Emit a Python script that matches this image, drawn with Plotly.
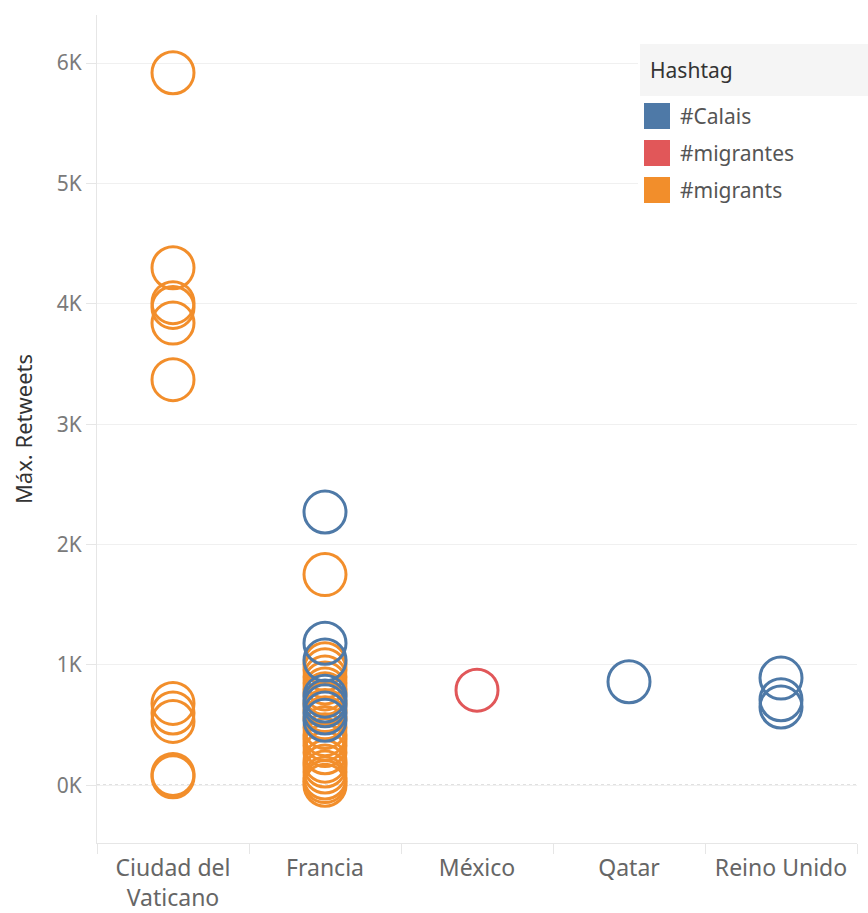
import plotly.graph_objects as go

# Countries on the x axis
countries = ["Ciudad del Vaticano", "Francia", "México", "Qatar", "Reino Unido"]
country_labels = ["Ciudad del<br>Vaticano", "Francia", "México", "Qatar", "Reino Unido"]

# Max retweets per tweet, grouped by hashtag
calais_country = ["Francia"] * 8 + ["Qatar"] + ["Reino Unido"] * 3
calais_rt = [2270, 1180, 1040, 740, 700, 660, 600, 540, 860, 890, 710, 650]

migrantes_country = ["México"]
migrantes_rt = [790]

migrants_country = ["Ciudad del Vaticano"] * 11 + ["Francia"] * 21
migrants_rt = [5920, 4300, 4010, 3970, 3840, 3370, 680, 600, 530, 90, 70,
               1750, 1010, 960, 900, 850, 800, 760, 680, 620, 560, 480,
               420, 380, 330, 270, 200, 160, 110, 60, 30, 0]

y_tickvals = [0, 1000, 2000, 3000, 4000, 5000, 6000]
y_ticktext = ["0K", "1K", "2K", "3K", "4K", "5K", "6K"]

legend_items = ["#Calais", "#migrantes", "#migrants"]
colors = {"#Calais": "#4e79a7", "#migrantes": "#e15759", "#migrants": "#f28e2b"}

FONT = "Noto Sans"
W, H = 868, 913
ML, MR, MT, MB = 97, 11, 15, 70
PW, PH = W - ML - MR, H - MT - MB


def px(x):
    return (x - ML) / PW


def py(y):
    return (H - MB - y) / PH


fig = go.Figure()


def add_series(xs, ys, name):
    fig.add_trace(go.Scatter(
        x=xs, y=ys, mode="markers", name=name, showlegend=False,
        marker=dict(size=42, color="rgba(0,0,0,0)",
                    line=dict(color=colors[name], width=3)),
        hovertemplate="%{x}<br>%{y}<extra>" + name + "</extra>",
    ))


add_series(migrants_country, migrants_rt, "#migrants")
add_series(migrantes_country, migrantes_rt, "#migrantes")
add_series(calais_country, calais_rt, "#Calais")

# Dotted zero reference line
fig.add_shape(type="line", xref="paper", yref="y", x0=0, x1=1, y0=0, y1=0,
              line=dict(color="#c4c4c4", width=1.5, dash="dot"), layer="below")

# Legend panel
shapes = [
    dict(type="rect", xref="paper", yref="paper", x0=px(638), x1=px(868),
         y0=py(212), y1=py(40), fillcolor="white", line=dict(width=0), layer="above"),
    dict(type="rect", xref="paper", yref="paper", x0=px(640), x1=px(868),
         y0=py(96), y1=py(44), fillcolor="#f5f5f5", line=dict(width=0), layer="above"),
]
annotations = [
    dict(text="Hashtag", xref="paper", yref="paper", x=px(648), y=py(70),
         xanchor="left", yanchor="middle", showarrow=False,
         font=dict(family=FONT, size=21, color="#333333")),
]
row_y = [116, 153, 190]
for name, yc in zip(legend_items, row_y):
    shapes.append(dict(type="rect", xref="paper", yref="paper",
                       x0=px(644), x1=px(670), y0=py(yc + 13), y1=py(yc - 13),
                       fillcolor=colors[name], line=dict(width=0), layer="above"))
    annotations.append(dict(text=name, xref="paper", yref="paper", x=px(678), y=py(yc),
                            xanchor="left", yanchor="middle", showarrow=False,
                            font=dict(family=FONT, size=21, color="#555555")))
for s in shapes:
    fig.add_shape(**s)

fig.update_layout(
    width=W, height=H,
    margin=dict(l=ML, r=MR, t=MT, b=MB, autoexpand=False),
    paper_bgcolor="white", plot_bgcolor="white",
    font=dict(family=FONT),
    annotations=annotations,
    showlegend=False,
    xaxis=dict(
        type="category", categoryorder="array", categoryarray=countries,
        tickvals=countries, ticktext=country_labels, automargin=False,
        tickson="boundaries", ticks="outside", ticklen=10, tickcolor="#e6e6e6",
        ticklabelstandoff=4,
        showgrid=False, showline=True, linecolor="#e6e6e6", linewidth=1,
        tickfont=dict(family=FONT, size=23, color="#666666"),
        range=[-0.5, 4.5], fixedrange=True,
    ),
    yaxis=dict(
        title=dict(text="Máx. Retweets", font=dict(family=FONT, size=22, color="#333333"),
                   standoff=18),
        automargin=False,
        range=[-480, 6400], tickvals=y_tickvals, ticktext=y_ticktext,
        ticks="outside", ticklen=10, tickcolor="#e6e6e6",
        showgrid=True, gridcolor="#f0f0f0", gridwidth=1,
        zeroline=False, showline=True, linecolor="#e6e6e6", linewidth=1,
        tickfont=dict(family=FONT, size=21, color="#7a7a7a"),
    ),
)

fig.write_html("out.html")
